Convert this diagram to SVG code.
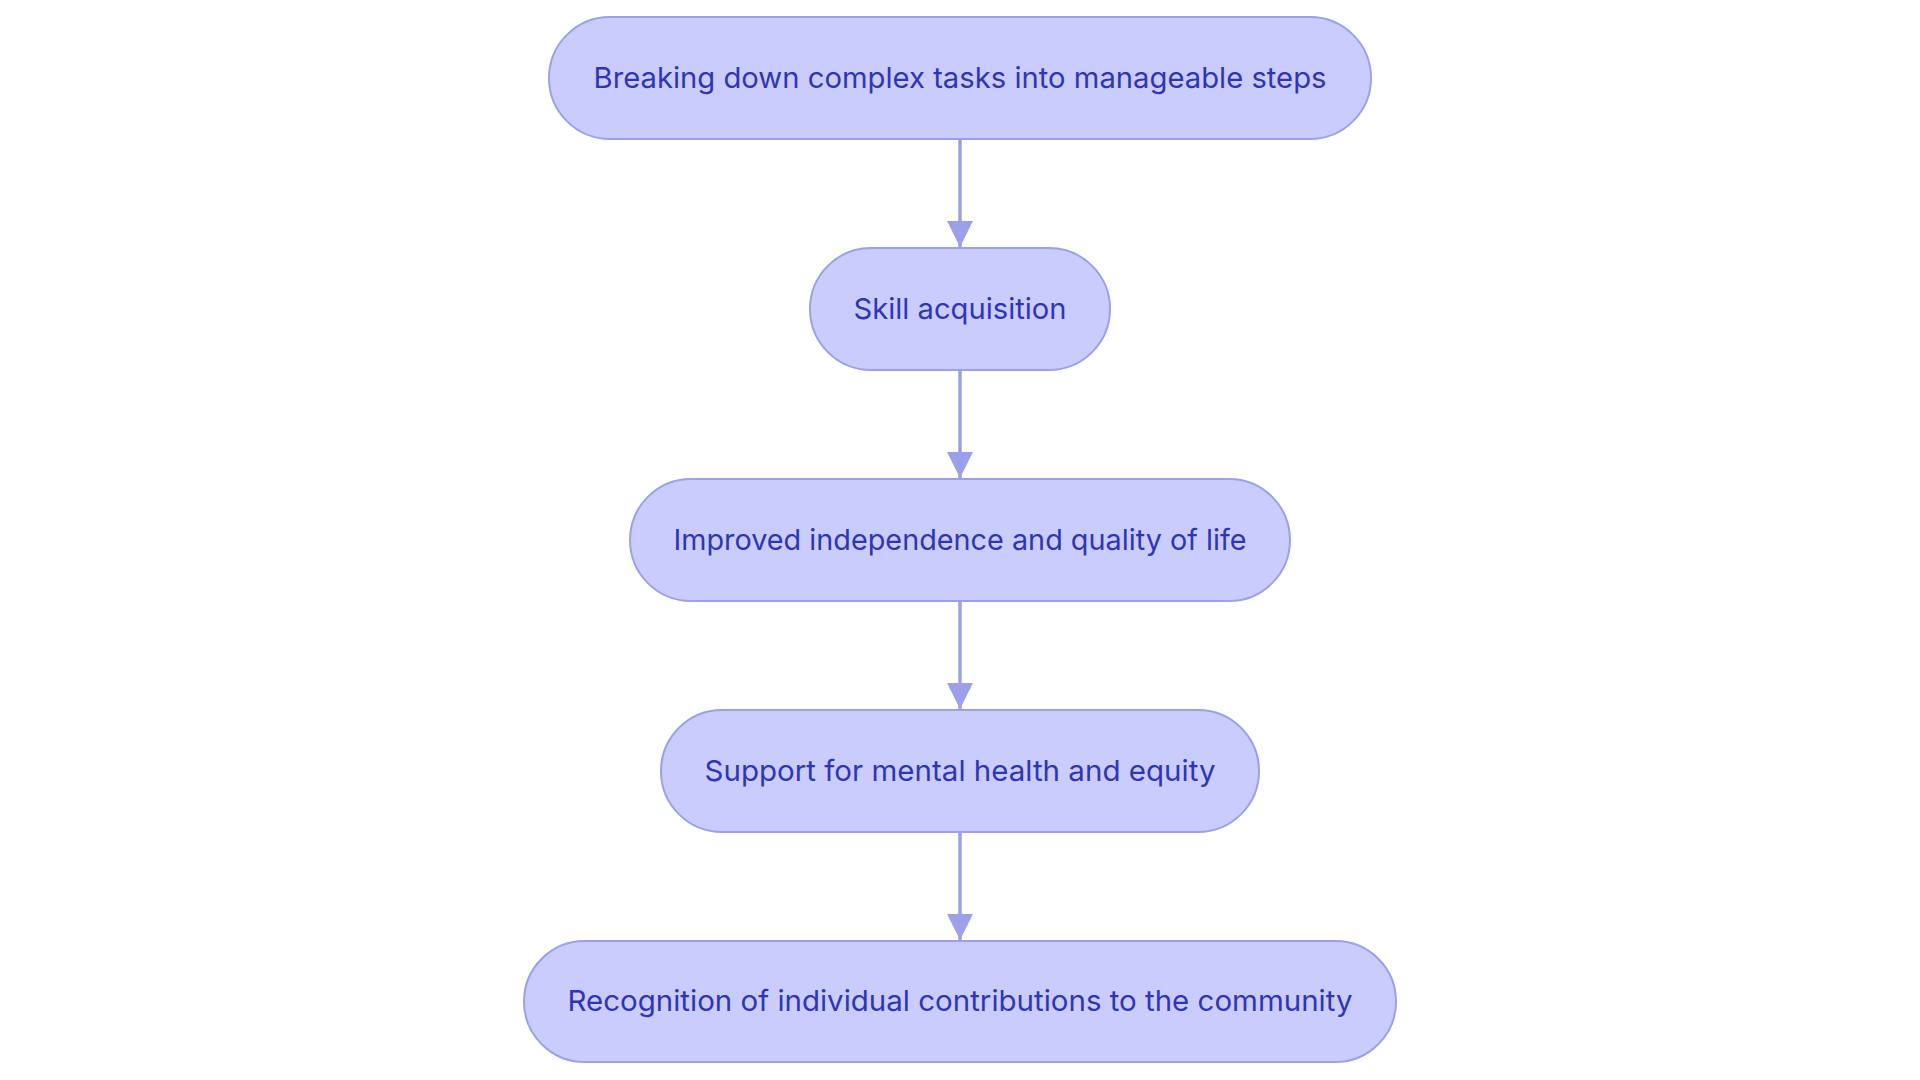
<svg xmlns="http://www.w3.org/2000/svg" width="1920" height="1080" viewBox="0 0 1920 1080">
<style>
.node rect{fill:#CACCFD;stroke:#9CA0EB;stroke-width:2}
.node text{font-family:Inter,"Noto Sans","Liberation Sans",sans-serif;font-size:29px;fill:#2F36B5;text-anchor:middle}
.edge{stroke:#9CA0EB;stroke-width:3.5;fill:none}
</style>
<defs>
<marker id="arr" viewBox="0 0 10 10" refX="10" refY="5" markerWidth="7.5" markerHeight="7.5" orient="auto" markerUnits="strokeWidth">
<path d="M0,0 L10,5 L0,10 z" fill="#9CA0EB"/>
</marker>
</defs>
<rect width="1920" height="1080" fill="#FFFFFF"/>
<g id="connectors">
<line class="edge" x1="960" y1="139" x2="960" y2="247" marker-end="url(#arr)"/>
<line class="edge" x1="960" y1="370" x2="960" y2="478" marker-end="url(#arr)"/>
<line class="edge" x1="960" y1="601" x2="960" y2="709" marker-end="url(#arr)"/>
<line class="edge" x1="960" y1="832" x2="960" y2="940" marker-end="url(#arr)"/>
</g>
<g id="n1" class="node">
<rect x="549" y="17" width="822" height="122" rx="61" ry="61"/>
<text x="960" y="88" textLength="733" lengthAdjust="spacingAndGlyphs">Breaking down complex tasks into manageable steps</text>
</g>
<g id="n2" class="node">
<rect x="810" y="248" width="300" height="122" rx="61" ry="61"/>
<text x="960" y="319" textLength="213" lengthAdjust="spacingAndGlyphs">Skill acquisition</text>
</g>
<g id="n3" class="node">
<rect x="630" y="479" width="660" height="122" rx="61" ry="61"/>
<text x="960" y="550" textLength="573" lengthAdjust="spacingAndGlyphs">Improved independence and quality of life</text>
</g>
<g id="n4" class="node">
<rect x="661" y="710" width="598" height="122" rx="61" ry="61"/>
<text x="960" y="781" textLength="511" lengthAdjust="spacingAndGlyphs">Support for mental health and equity</text>
</g>
<g id="n5" class="node">
<rect x="524" y="941" width="872" height="121" rx="60.5" ry="60.5"/>
<text x="960" y="1011" textLength="785" lengthAdjust="spacingAndGlyphs">Recognition of individual contributions to the community</text>
</g>
</svg>
